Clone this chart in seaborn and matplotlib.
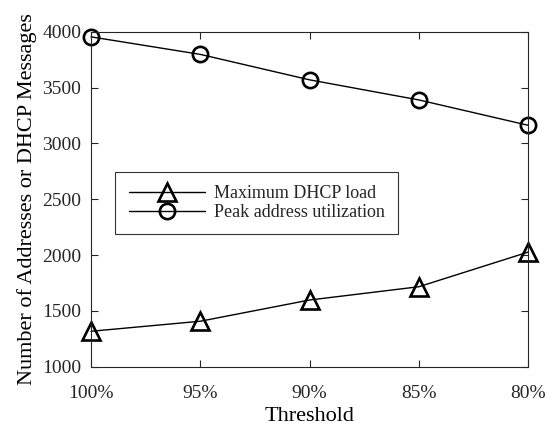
import matplotlib
matplotlib.use("Agg")
import matplotlib.pyplot as plt
import seaborn as sns
import pandas as pd

thresholds = ["100%", "95%", "90%", "85%", "80%"]
max_dhcp_load = [1318, 1408, 1598, 1717, 2027]
peak_address_util = [3955, 3798, 3570, 3390, 3163]

sns.set_theme(style="ticks")
plt.rcParams["font.family"] = ["Liberation Serif", "DejaVu Serif"]
plt.rcParams["mathtext.fontset"] = "stix"

df = pd.DataFrame({
    "pos": range(len(thresholds)),
    "Maximum DHCP load": max_dhcp_load,
    "Peak address utilization": peak_address_util,
})

fig = plt.figure(figsize=(5.45, 4.3), dpi=100)
ax = fig.add_axes([0.167, 0.147, 0.802, 0.779])

sns.lineplot(data=df, x="pos", y="Maximum DHCP load", ax=ax, color="black",
             linewidth=1.0, marker="^", markersize=13, markerfacecolor="none",
             markeredgecolor="black", markeredgewidth=1.9,
             label="Maximum DHCP load", clip_on=False)
sns.lineplot(data=df, x="pos", y="Peak address utilization", ax=ax, color="black",
             linewidth=1.0, marker="o", markersize=11, markerfacecolor="none",
             markeredgecolor="black", markeredgewidth=1.9,
             label="Peak address utilization", clip_on=False)

ax.set_xlim(0, len(thresholds) - 1)
ax.set_ylim(1000, 4000)
ax.set_xticks(range(len(thresholds)))
ax.set_xticklabels(thresholds)
ax.set_yticks(range(1000, 4001, 500))
ax.set_xlabel("Threshold", fontsize=16, color="black", labelpad=4)
ax.set_ylabel("Number of Addresses or DHCP Messages", fontsize=16, color="black",
              labelpad=4)

for s in ax.spines.values():
    s.set_visible(True)
    s.set_color("#262626")
    s.set_linewidth(0.8)
ax.tick_params(direction="in", top=True, right=True, length=5, width=0.8,
               labelsize=14, colors="#262626", labelcolor="#262626")
ax.tick_params(axis="y", pad=7)
ax.tick_params(axis="x", pad=13)

leg = ax.legend(loc="upper left", bbox_to_anchor=(0.056, 0.583), borderaxespad=0,
                fontsize=13, frameon=True, fancybox=False, edgecolor="black",
                handlelength=4.2, handletextpad=0.5, borderpad=0.75,
                labelspacing=0.1)
leg.get_frame().set_linewidth(0.8)

fig.savefig("out.png", dpi=100)
